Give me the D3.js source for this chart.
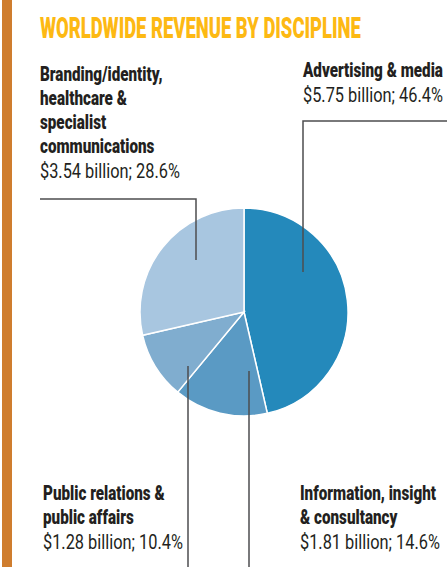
<!DOCTYPE html>
<html>
<head>
<meta charset="utf-8">
<script src="https://cdn.jsdelivr.net/npm/d3@7"></script>
<style>
  body { margin: 0; background: #fff; }
  svg { display: block; }
  text { font-family: Roboto, "Liberation Sans", sans-serif; fill: #231f20; }
</style>
</head>
<body>
<div id="chart"></div>
<script>
const width = 447;
const height = 567;

// data, clockwise from 12 o'clock
const disciplines = ["Advertising & media", "Information, insight & consultancy", "Public relations & public affairs", "Branding/identity, healthcare & specialist communications"];
const revenue = [5.75, 1.81, 1.28, 3.54];          // $ billion
const shares = [46.4, 14.6, 10.4, 28.6];            // %
const colours = ["#2489bb", "#5a9ac4", "#80adcf", "#a8c6e0"];
const labelLines = [
    ["Advertising & media"],
    ["Information, insight", "& consultancy"],
    ["Public relations &", "public affairs"],
    ["Branding/identity,", "healthcare &", "specialist", "communications"]
];

const svg = d3.select("#chart")
    .append("svg")
    .attr("width", width)
    .attr("height", height);

// orange side rule
svg.append("rect")
    .attr("x", 2).attr("y", 0)
    .attr("width", 10).attr("height", height)
    .attr("fill", "#cf7d2e");

const cx = 244, cy = 312, r = 104;

const pie = d3.pie().sort(null).value(d => d);
const arc = d3.arc().innerRadius(0).outerRadius(r);
const arcs = pie(shares);

const g = svg.append("g").attr("transform", `translate(${cx},${cy})`);
g.selectAll("path")
    .data(arcs)
    .enter()
    .append("path")
    .attr("d", arc)
    .attr("fill", (d, i) => colours[i])
    .attr("stroke", "#fff")
    .attr("stroke-width", 1.5);

// leader lines
const leaderColour = "#4d4d4f";
const leaders = [
    `M303,272 V121 H${width}`,   // advertising: up, then off to the right
    `M249,371 V${height}`,       // information: straight down
    `M188,366 V${height}`,       // PR: straight down
    `M196,260 V199 H40`          // branding: up, then left
];
svg.selectAll("path.leader")
    .data(leaders)
    .enter()
    .append("path")
    .attr("class", "leader")
    .attr("d", d => d)
    .attr("fill", "none")
    .attr("stroke", leaderColour)
    .attr("stroke-width", 1.5);

// condensed look: squeeze text horizontally to fit the measured widths
function squeeze(sel, target) {
    const w = sel.node().getComputedTextLength();
    const k = target / w;
    const x = +sel.attr("x"), y = +sel.attr("y");
    sel.attr("x", 0).attr("y", 0)
       .attr("transform", `translate(${x},${y}) scale(${k},1)`);
    return k;
}

const title = svg.append("text")
    .attr("x", 40).attr("y", 38)
    .attr("font-size", 29)
    .attr("font-weight", 900)
    .style("fill", "#fdb913")
    .text("WORLDWIDE REVENUE BY DISCIPLINE");
squeeze(title, 321);

const fs = 20.5;
// measure the squeeze factors once
const probeB = svg.append("text").attr("font-size", fs).attr("font-weight", 900).text("Advertising & media");
const kBold = 140 / probeB.node().getComputedTextLength();
probeB.remove();
const probeR = svg.append("text").attr("font-size", fs).text("$5.75 billion; 46.4%");
const kReg = 140 / probeR.node().getComputedTextLength();
probeR.remove();

const labelPos = [
    { x: 303, y: 77 },
    { x: 300, y: 500 },
    { x: 43, y: 500 },
    { x: 40, y: 81 }
];
const lineGap = 24;

labelLines.forEach((lines, i) => {
    const lg = svg.append("g");
    lines.forEach((t, j) => {
        lg.append("text")
            .attr("transform", `translate(${labelPos[i].x},${labelPos[i].y + j * lineGap}) scale(${kBold},1)`)
            .attr("font-size", fs)
            .attr("font-weight", 900)
            .text(t);
    });
    lg.append("text")
        .attr("transform", `translate(${labelPos[i].x},${labelPos[i].y + lines.length * lineGap + 1}) scale(${kReg},1)`)
        .attr("font-size", fs)
        .text(`$${revenue[i].toFixed(2)} billion; ${shares[i].toFixed(1)}%`);
});
</script>
</body>
</html>
